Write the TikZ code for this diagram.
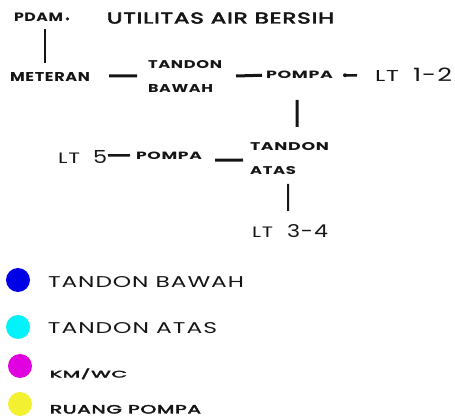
\documentclass[tikz,border=0pt]{standalone}
\usepackage{fontspec}
\usepackage{graphicx}
\usetikzlibrary{calc}
\newfontfamily\gfont{Poppins}[LetterSpace=4]
\newfontfamily\gfontm{Poppins}[LetterSpace=4, FakeBold=3]
\newcommand{\fit}[3]{\resizebox{#1pt}{#2pt}{\raisebox{0pt}[\height][0pt]{\gfont\bfseries #3}}}
\newcommand{\fitm}[3]{\resizebox{#1pt}{#2pt}{\raisebox{0pt}[\height][0pt]{\gfontm #3}}}
\newcommand{\fitr}[3]{\resizebox{#1pt}{#2pt}{\raisebox{0pt}[\height][0pt]{\gfont #3}}}
\definecolor{ink}{HTML}{151515}
\definecolor{cblue}{HTML}{0000E6}
\definecolor{ccyan}{HTML}{00F2FA}
\definecolor{cmag}{HTML}{E000E0}
\definecolor{cyel}{HTML}{F2F030}
\tikzset{
  txt/.style={inner sep=0pt, outer sep=0pt, anchor=south west, text=ink},
  thickline/.style={draw=ink, line width=3pt},
  thinline/.style={draw=ink, line width=2pt},
  dotmark/.style={circle, fill=ink, inner sep=0pt, minimum size=4pt},
  legdot/.style={circle, inner sep=0pt, minimum size=24pt}
}
\begin{document}
\begin{tikzpicture}[x=1pt, y=-1pt]
\useasboundingbox (0,0) rectangle (455,419);
% title and top
\node[txt] (pdam) at (14,22) {\fit{49}{8.5}{PDAM}};
\node[dotmark, minimum size=3.5pt] (pdamdot) at (67.5,19) {};
\node[txt] (title) at (107,23.5) {\fitm{227}{11}{UTILITAS AIR BERSIH}};
\node[txt] (meteran) at (10,82) {\fit{80}{9}{METERAN}};
\node[txt] (tb1) at (148,68.5) {\fit{74}{8}{TANDON}};
\node[txt] (tb2) at (148,93) {\fit{65}{8}{BAWAH}};
\node[txt] (pompa1) at (266,78.5) {\fit{67}{7.5}{POMPA}};
\node[txt] (lt12a) at (375,81.5) {\fitr{24}{11}{LT}};
\node[txt] (lt12b) at (413,81.5) {\fitr{39}{13.5}{1-2}};
\node[txt] (ta1) at (250,151) {\fit{79}{8}{TANDON}};
\node[txt] (ta2) at (250,175) {\fit{46}{8}{ATAS}};
\node[txt] (pompa2) at (136,159.5) {\fit{66}{7.5}{POMPA}};
\node[txt] (lt5a) at (58,163.5) {\fitr{22}{10.5}{LT}};
\node[txt] (lt5b) at (93,163.5) {\fitr{14}{13}{5}};
\node[txt] (lt34a) at (252,237.5) {\fitr{21}{10.5}{LT}};
\node[txt] (lt34b) at (287,237.5) {\fitr{41}{13}{3-4}};
% connectors
\draw[thinline] ($(pdam.south west)+(31,7)$) -- ($(meteran.north west)+(35,-10)$);
\draw[thickline] ($(meteran.east)+(19,-1.5)$) -- ($(tb1.south west)+(-11,7.5)$);
\draw[thickline] ($(tb1.south east)+(14,7.5)$) -- ($(pompa1.west)+(-4,0.5)$);
\node[dotmark] (pdot) at ($(pompa1.east)+(12,0.5)$) {};
\draw[thickline, line width=2.5pt] (pdot.center) -- ($(lt12a.west)+(-18,-0.5)$);
\draw[thickline] ($(pompa1.south)+(-2.5,21.5)$) -- ($(ta1.north)+(7.5,-16)$);
\draw[thickline] ($(pompa2.east)+(13,4.5)$) -- ($(ta1.west)+(-7,13)$);
\draw[thinline, line width=2.5pt] ($(lt5b.east)+(1,-1.5)$) -- ($(pompa2.west)+(-6,-0.5)$);
\draw[thinline] ($(ta2.south)+(15,9)$) -- ($(lt34a.north)+(25.5,-16)$);
% legend
\node[legdot, fill=cblue] (c1) at (18,280) {};
\node[legdot, fill=ccyan] (c2) at (18,327) {};
\node[legdot, fill=cmag] (c3) at (20,366) {};
\node[legdot, fill=cyel] (c4) at (20,404) {};
\node[txt] (l1) at (48,287.5) {\fitr{196}{11}{TANDON BAWAH}};
\node[txt] (l2) at (48,334) {\fitr{169}{11}{TANDON ATAS}};
\node[txt] (l3) at (50,377.5) {\fitm{77}{9}{KM/WC}};
\node[txt] (l4) at (50,413.5) {\fitm{151}{8.5}{RUANG POMPA}};
\end{tikzpicture}
\end{document}
